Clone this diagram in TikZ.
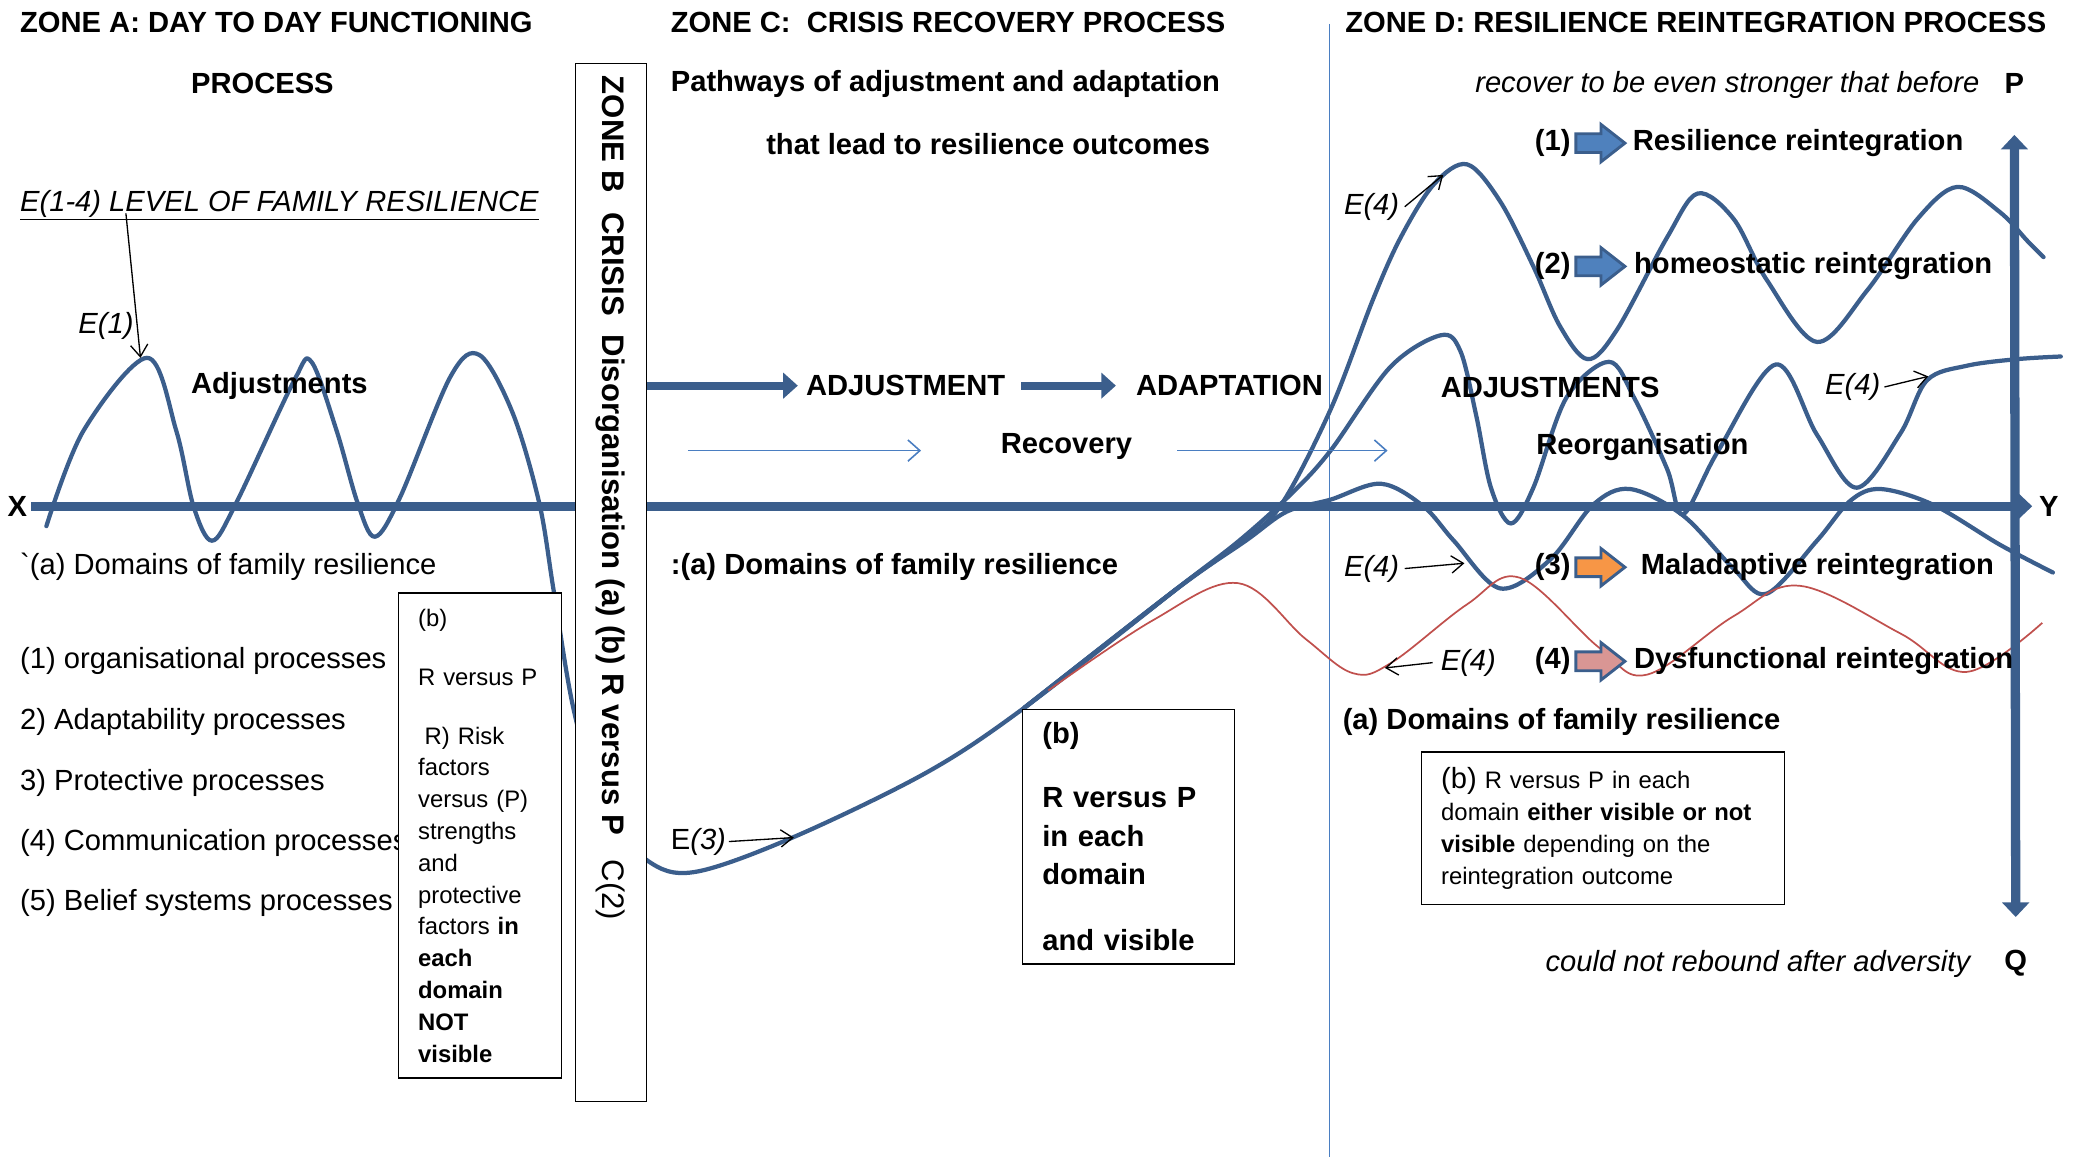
\documentclass[tikz,border=0pt]{standalone}
\usepackage{fontspec}
\setmainfont{Liberation Sans}
\usetikzlibrary{arrows.meta,shapes.arrows,positioning}

\definecolor{curveblue}{RGB}{59,94,140}
\definecolor{thinblue}{RGB}{74,126,193}
\definecolor{legblue}{RGB}{79,129,189}
\definecolor{legorange}{RGB}{247,150,70}
\definecolor{legpink}{RGB}{217,150,148}
\definecolor{dysred}{RGB}{192,80,77}

\newcommand\bigsz{\fontsize{22}{29}\selectfont}
\newcommand\smallsz{\fontsize{18}{24}\selectfont}

\begin{document}
\begin{tikzpicture}[x=1pt,y=-1pt,
    every node/.style={inner sep=0pt,font=\bigsz},
    txt/.style={anchor=west},
    head/.style={anchor=west,font=\bigsz\bfseries},
    elbl/.style={anchor=west,font=\bigsz\itshape},
    wave/.style={curveblue,line width=3.2pt,line cap=round,line join=round},
    axisline/.style={curveblue,line width=6.5pt},
    bigarrow/.style={curveblue,line width=6pt,-{Triangle[length=11pt,width=19pt]}},
    thinarrow/.style={thinblue,line width=1.2pt,-{Straight Barb[length=9pt,width=16pt]}},
    earrow/.style={line width=1pt,-{Straight Barb[length=9pt,width=13pt]}},
    textbox/.style={draw,line width=1pt,fill=white,align=left,anchor=north west,inner xsep=15pt},
    legarr/.style={single arrow,draw=curveblue,line width=2.2pt,inner xsep=0pt,inner ysep=6pt,minimum height=37pt,single arrow head extend=7pt,single arrow tip angle=76,anchor=west}]

  \useasboundingbox (0,0) rectangle (1568,873);

  \draw[thinblue,line width=1pt] (1003,18) -- (1003,873);

  \node[font=\bigsz\bfseries] (Xlbl) at (13,382) {X};
  \node[font=\bigsz\bfseries] (Ylbl) at (1546,382) {Y};
  \draw[axisline,-{Triangle[length=11pt,width=20pt]}] ([xshift=3pt]Xlbl.east) -- ([xshift=-5pt]Ylbl.west);

  \draw[wave] plot[smooth,tension=0.55] coordinates {(35,397) (63,325) (111,270) (133,325) (146,382) (160,408) (178,380) (222,287) (235,273) (254,325) (270,380) (283,405) (302,375) (340,284) (362,268) (387,312) (407,380) (418,447) (433,536) (455,610) (488,649) (524,658) (598,632) (699,583) (773,534) (887,445)};
  \draw[wave] plot[smooth,tension=0.55] coordinates {(773,534) (887,445) (935,410) (966,382) (1004,309) (1036,226) (1057,179) (1082,139) (1107,124) (1132,152) (1157,201) (1177,246) (1198,271) (1220,249) (1258,179) (1281,146) (1308,165) (1333,211) (1371,258) (1409,219) (1447,165) (1477,141) (1509,160) (1530,182) (1542,194)};
  \draw[wave] plot[smooth,tension=0.55] coordinates {(773,534) (887,445) (935,408) (975,372) (1004,340) (1049,277) (1087,253) (1102,265) (1114,314) (1125,368) (1140,395) (1157,368) (1182,300) (1214,273) (1233,300) (1258,354) (1270,388) (1296,341) (1340,275) (1371,328) (1401,368) (1434,327) (1454,287) (1484,276) (1522,271) (1555,269)};
  \draw[wave] plot[smooth,tension=0.55] coordinates {(773,534) (887,445) (940,408) (971,386) (1004,377) (1042,365) (1074,382) (1097,408) (1132,444) (1170,422) (1202,381) (1230,369) (1270,389) (1308,429) (1333,448) (1371,408) (1396,378) (1419,369) (1459,381) (1509,411) (1549,432)};
  \draw[dysred,line width=1.3pt] plot[smooth,tension=0.6] coordinates {(791,521) (870,468) (934,440) (985,482) (1021,508) (1050,500) (1107,456) (1147,436) (1207,489) (1243,509) (1308,465) (1358,442) (1434,478) (1484,507) (1541,470)};

  \node[font=\bigsz\bfseries] (Plbl) at (1520,63) {P};
  \node[font=\bigsz\bfseries] (Qlbl) at (1521,727) {Q};
  \draw[axisline,line width=7pt,{Triangle[length=11pt,width=20pt]}-{Triangle[length=11pt,width=20pt]}] ([yshift=-31pt]Plbl.south) -- ([yshift=25pt]Qlbl.north);

  \node[draw,line width=1pt,fill=white,minimum width=54pt,minimum height=783pt] (zoneB) at (461,439.5) {};
  \node[font=\fontsize{23.5}{28}\selectfont\bfseries,rotate=-90,anchor=west] (zoneBtxt) at (461,57) {ZONE B\hspace{0.6em}CRISIS\hspace{0.6em}Disorganisation (a) (b) R versus P\hspace{0.8em}\mdseries C(2)};

  \node[head] (zoneA) at (15,17) {ZONE A: DAY TO DAY FUNCTIONING};
  \node[head] (zoneAproc) at (144,63) {PROCESS};
  \node[elbl] (levels) at (15,155) {\underline{E(1-4) LEVEL OF FAMILY RESILIENCE}};
  \node[elbl] (e1) at (59,246) {E(1)};
  \node[head] (adjA) at (144,291) {Adjustments};
  \node[txt] (domA) at (15,428) {\textasciigrave(a) Domains of family resilience};
  \foreach \yy/\txt [count=\i] in {499/{(1) organisational processes}, 545/{2) Adaptability processes}, 591/{3) Protective processes}, 636/{(4) Communication processes}, 681/{(5) Belief systems processes}}
    \node[txt] (dom\i) at (15,\yy) {\txt};
  \node[textbox,font=\smallsz,minimum width=123pt,minimum height=366pt,text width=93pt] (boxA) at (300,447) {(b)\\[21pt]R versus P\\[20pt]\hspace*{5pt}R) Risk\\factors\\versus (P)\\strengths\\and\\protective\\factors \textbf{in}\\\textbf{each}\\\textbf{domain}\\\textbf{NOT}\\\textbf{visible}};

  \node[head] (zoneC) at (506,17) {ZONE C:\ \ CRISIS RECOVERY PROCESS};
  \node[head] (pathA) at (506,63) {Pathways of adjustment and adaptation};
  \node[head] (pathB) at (578,109) {that lead to resilience outcomes};
  \node[head] (adjC) at (608,291) {ADJUSTMENT};
  \node[head] (adaptC) at (857,291) {ADAPTATION};
  \node[head] (recov) at (755,337) {Recovery};
  \node[head] (domC) at (506,428) {:(a) Domains of family resilience};
  \node[txt] (e3) at (506,635) {E\textit{(3)}};
  \node[textbox,font=\bigsz\bfseries,minimum width=160pt,minimum height=192pt,text width=130pt] (boxC) at (771,535) {(b)\\[19pt]R versus P\\in each\\domain\\[21pt]and visible};

  \node[head] (zoneD) at (1015,17) {ZONE D: RESILIENCE REINTEGRATION PROCESS};
  \node[elbl] (recover) at (1113,64) {recover to be even stronger that before};
  \node[head] (adjD) at (1087,292) {ADJUSTMENTS};
  \node[head] (reorg) at (1159,337) {Reorganisation};
  \node[head] (domD) at (1013,545) {(a) Domains of family resilience};
  \node[elbl] (rebound) at (1166,727) {could not rebound after adversity};
  \node[textbox,font=\smallsz,minimum width=274pt,minimum height=115pt,text width=244pt] (boxD) at (1072,567) {{\bigsz(b)} R versus P in each\\domain \textbf{either visible or not}\\\textbf{visible} depending on the\\reintegration outcome};

  \foreach \yy/\fc/\num/\out/\gap in {108/legblue/1/Resilience reintegration/4, 201/legblue/2/homeostatic reintegration/5, 428/legorange/3/Maladaptive reintegration/10, 499/legpink/4/Dysfunctional reintegration/5} {
    \node[head] (num\num) at (1158,\yy) {(\num)};
    \node[legarr,fill=\fc] (leg\num) at (1188,\yy) {};
    \node[head,right=\gap pt of leg\num] (out\num) {\out};
  }

  \node[elbl] (e4a) at (1014,156) {E(4)};
  \node[elbl] (e4b) at (1377,292) {E(4)};
  \node[elbl] (e4c) at (1014,429) {E(4)};
  \node[elbl] (e4d) at (1087,500) {E(4)};

  \coordinate (c1s) at (95,161);
  \coordinate (c1) at (106,270);
  \coordinate (c3) at (599,632);
  \coordinate (c4a) at (1089,132);
  \coordinate (c4b) at (1455,284);
  \coordinate (c4c) at (1105,425);
  \coordinate (c4d) at (1045,504);
  \coordinate (recS) at (519,340);
  \coordinate (recE) at (1047,340);

  \draw[earrow] (c1s) -- (c1);
  \draw[earrow] ([xshift=2pt]e3.east) -- (c3);
  \draw[earrow] ([xshift=4pt]e4a.east) -- (c4a);
  \draw[earrow] ([xshift=3pt]e4b.east) -- (c4b);
  \draw[earrow] ([xshift=4pt]e4c.east) -- (c4c);
  \draw[earrow] ([xshift=-6pt]e4d.west) -- (c4d);

  \draw[bigarrow,shorten >=6pt] (zoneB.east |- adjC.west) -- (adjC.west);
  \draw[bigarrow,shorten <=12pt,shorten >=15pt] (adjC.east) -- (adaptC.west);
  \draw[thinarrow,shorten >=60pt] (recS) -- (recS -| recov.west);
  \draw[thinarrow,shorten <=34pt] (recE -| recov.east) -- (recE);
\end{tikzpicture}
\end{document}
